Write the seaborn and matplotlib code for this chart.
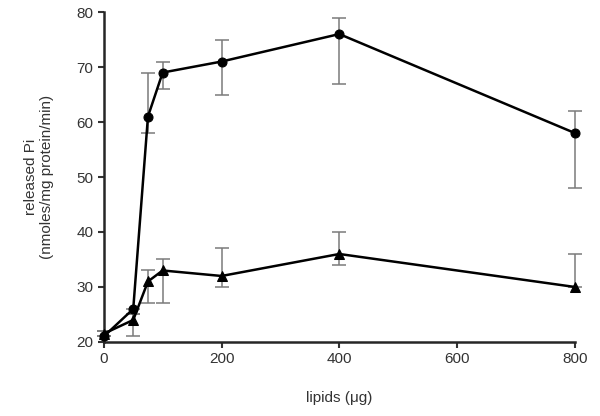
import numpy as np
import pandas as pd
import matplotlib
matplotlib.use("Agg")
import matplotlib.pyplot as plt
import seaborn as sns

# data
lipids = [0, 50, 75, 100, 200, 400, 800]
circle_vals = [21, 26, 61, 69, 71, 76, 58]
circle_lo = [21, 25, 58, 66, 65, 67, 48]
circle_hi = [22, 26, 69, 71, 75, 79, 62]
tri_vals = [21.5, 24, 31, 33, 32, 36, 30]
tri_lo = [21, 21, 27, 27, 30, 34, 30]
tri_hi = [22, 25, 33, 35, 37, 40, 36]

sns.set_style("ticks")
plt.rcParams['font.family'] = ['Liberation Sans', 'DejaVu Sans']

fig = plt.figure(figsize=(6, 4.16), dpi=100)
ax = fig.add_axes([0.173, 0.178, 0.785, 0.793])

df = pd.DataFrame({
    'lipids': lipids * 2,
    'pi': circle_vals + tri_vals,
    'series': ['circle'] * len(lipids) + ['triangle'] * len(lipids),
})

# error bars (grey)
for vals, lo, hi in [(circle_vals, circle_lo, circle_hi), (tri_vals, tri_lo, tri_hi)]:
    v = np.array(vals)
    yerr = [v - np.array(lo), np.array(hi) - v]
    ax.errorbar(lipids, v, yerr=yerr, fmt='none', ecolor='#7a7a7a',
                elinewidth=1.1, capsize=5, capthick=1.1, clip_on=False, zorder=2)

sns.lineplot(data=df, x='lipids', y='pi', style='series', markers=['o', '^'],
             dashes=False, color='black', linewidth=1.8, markersize=6.5,
             markeredgecolor='black', legend=False, ax=ax, zorder=3, clip_on=False)

ax.set_xlim(0, 800)
ax.set_ylim(20, 80)
ax.set_xticks([0, 200, 400, 600, 800])
ax.set_yticks(range(20, 81, 10))
ax.tick_params(labelsize=11, width=1.5, length=4, colors='#333333')
for s in ['left', 'bottom']:
    ax.spines[s].set_linewidth(1.8)
sns.despine(ax=ax)

ax.set_xlabel('lipids (μg)', fontsize=11, labelpad=18, color='#333333')
ax.set_ylabel('released Pi\n(nmoles/mg protein/min)', fontsize=11,
              labelpad=16, color='#333333')

fig.savefig('out.png', dpi=100)
